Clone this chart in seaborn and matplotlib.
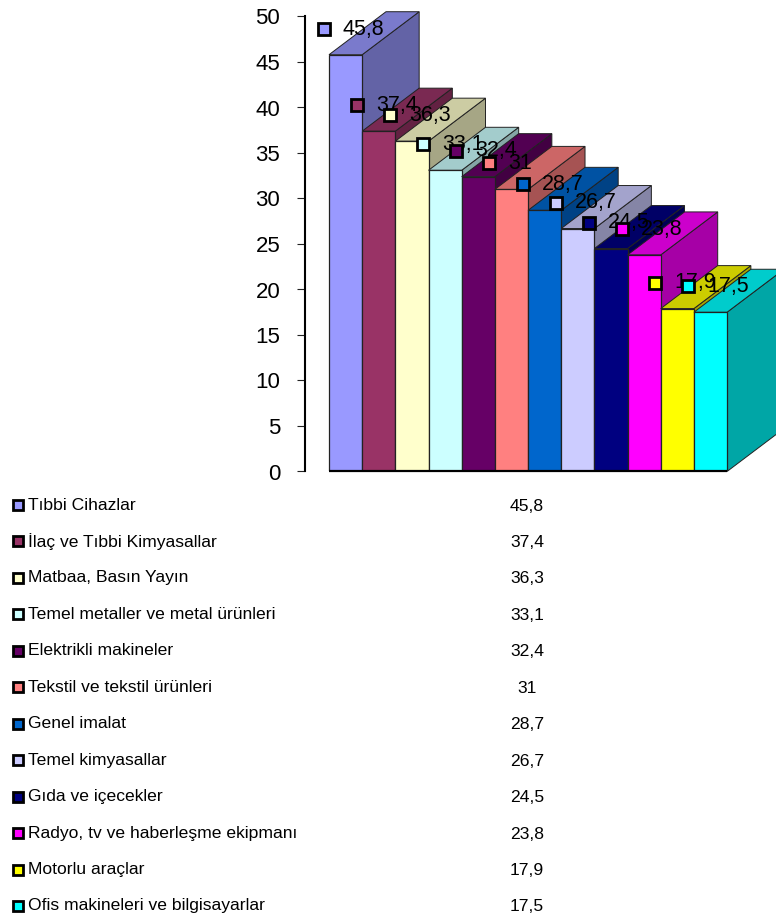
import matplotlib
matplotlib.use("Agg")
import matplotlib.pyplot as plt
import matplotlib.colors as mc
import seaborn as sns

categories = ["Tıbbi Cihazlar", "İlaç ve Tıbbi Kimyasallar", "Matbaa, Basın Yayın",
              "Temel metaller ve metal ürünleri", "Elektrikli makineler",
              "Tekstil ve tekstil ürünleri", "Genel imalat", "Temel kimyasallar",
              "Gıda ve içecekler", "Radyo, tv ve haberleşme ekipmanı",
              "Motorlu araçlar", "Ofis makineleri ve bilgisayarlar"]
values = [45.8, 37.4, 36.3, 33.1, 32.4, 31, 28.7, 26.7, 24.5, 23.8, 17.9, 17.5]
value_labels = ["45,8", "37,4", "36,3", "33,1", "32,4", "31", "28,7", "26,7", "24,5", "23,8", "17,9", "17,5"]
colors = ["#9999FF", "#993366", "#FFFFCC", "#CCFFFF", "#660066", "#FF8080",
          "#0066CC", "#CCCCFF", "#000080", "#FF00FF", "#FFFF00", "#00FFFF"]
yticks = [0, 5, 10, 15, 20, 25, 30, 35, 40, 45, 50]

W, H = 776, 922
BAR_PX = 33.17
Y_PX = 9.1
DX = 57 / BAR_PX
DY = 43 / Y_PX

sns.set_theme(style="white")
plt.rcParams["font.family"] = ["Liberation Sans", "DejaVu Sans"]

fig = plt.figure(figsize=(W / 100, H / 100), dpi=100)
left, right, top, bottom = 305, 776, 16.5, 471.5
ax = fig.add_axes([left / W, 1 - bottom / H, (right - left) / W, (bottom - top) / H])

sns.barplot(x=categories, y=values, hue=categories, palette=colors, dodge=False,
            width=1, legend=False, ax=ax, edgecolor="#222222", linewidth=0.9,
            saturation=1, zorder=3)
ax.set_xlim((left - 329) / BAR_PX - 0.5, (right - 329) / BAR_PX - 0.5)
ax.set_ylim(0, 50)
ax.set_xticks([])
ax.set_yticks(yticks)
ax.tick_params(axis="y", length=5.8, width=0.8, color="#222222", pad=12, labelsize=16,
               left=True, labelcolor="black")
for s in ["top", "right", "bottom"]:
    ax.spines[s].set_visible(False)
ax.spines["left"].set_color("black")
ax.spines["left"].set_linewidth(1.5)
ax.patch.set_alpha(0)


def shade(c, f):
    r, g, b = mc.to_rgb(c)
    return (r * f, g * f, b * f)


# 3-D faces: each bar's top and side, later bars overlap earlier ones
for i, (v, c) in enumerate(zip(values, colors)):
    x0, x1 = i - 0.5, i + 0.5
    base_z = 3 + i * 0.01
    ax.fill([x1, x1 + DX, x1 + DX, x1], [0, DY, v + DY, v], facecolor=shade(c, 0.65),
            edgecolor="#222222", linewidth=0.7, clip_on=False, zorder=base_z)
    ax.fill([x0, x0 + DX, x1 + DX, x1], [v, v + DY, v + DY, v], facecolor=shade(c, 0.8),
            edgecolor="#222222", linewidth=0.7, clip_on=False, zorder=base_z)
    ax.patches[i].set_zorder(base_z + 0.001)

ax.plot([-0.5, 11.5], [0, 0], color="black", lw=1.6, clip_on=False, zorder=4, solid_capstyle="butt")

# data labels with legend keys, offset from each bar's top
for i, (v, c, t) in enumerate(zip(values, colors, value_labels)):
    ax.annotate(t, (i, v), xytext=(-2, 18.5), textcoords="offset points",
                fontsize=15.5, ha="left", va="center", color="black", zorder=6,
                annotation_clip=False)
    tr = ax.transData + matplotlib.transforms.ScaledTranslation(-22 / 100, 26 / 100, fig.dpi_scale_trans)
    ax.plot([i], [v], marker="s", ms=8.6, mfc=c, mec="black", mew=2, ls="none",
            transform=tr, clip_on=False, zorder=7)

# data table under the chart
tab = fig.add_axes([0, 0, 1, 1 - 487 / H])
tab.set_xlim(0, W)
tab.set_ylim(922, 487)
tab.axis("off")
ROW0, PITCH = 505, 36.45
for i, (n, c, t) in enumerate(zip(categories, colors, value_labels)):
    y = ROW0 + i * PITCH
    tab.plot([18], [y], marker="s", ms=6.5, mfc=c, mec="black", mew=2, ls="none", clip_on=False)
    tab.text(28, y, n, fontsize=12.6, ha="left", va="center", color="black")
    tab.text(527, y + 1, t, fontsize=12.6, ha="center", va="center", color="black")

fig.savefig("out.png", dpi=100)
